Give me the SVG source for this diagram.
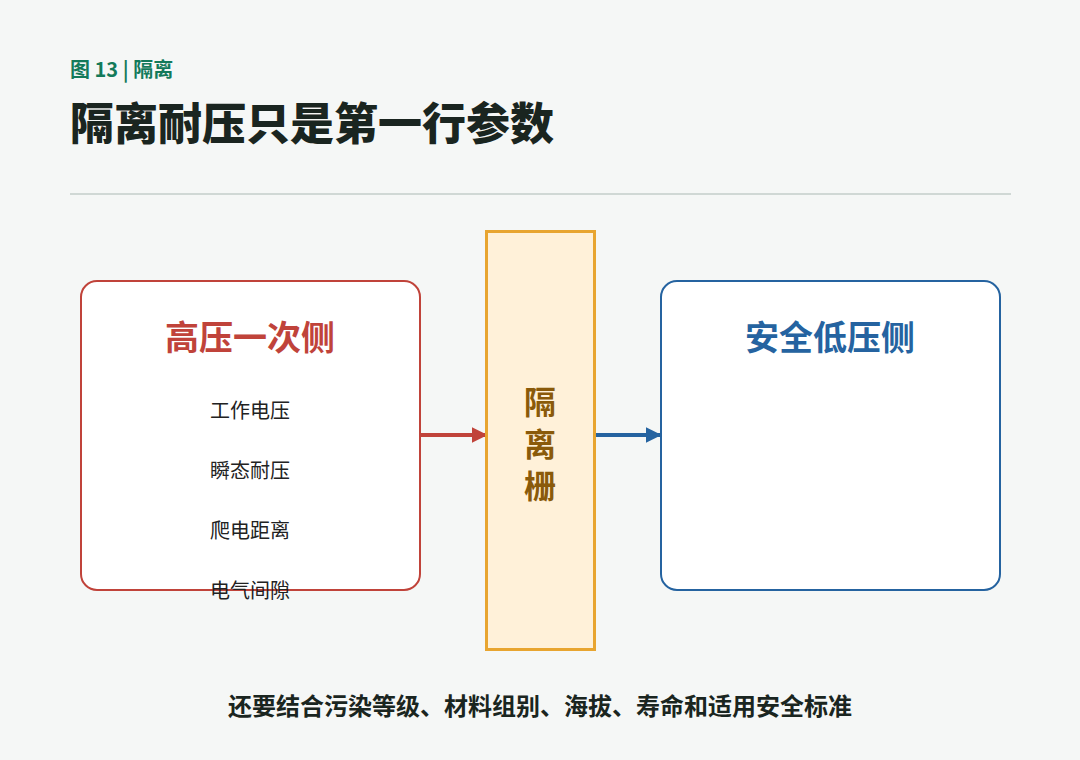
<svg xmlns="http://www.w3.org/2000/svg" width="1080" height="760" viewBox="0 0 1080 760">
<style>
text{font-family:"Noto Sans CJK SC","Noto Sans",sans-serif}
.item{font-size:20px;fill:#222;text-anchor:middle}
.bar{font-size:32px;font-weight:bold;fill:#8a5a0a;text-anchor:middle}
</style>
<defs>
<marker id="ar" viewBox="0 0 10 10" refX="9" refY="5" markerWidth="4" markerHeight="4" orient="auto"><path d="M0,0L10,5L0,10z" fill="#c0433a"/></marker>
<marker id="ab" viewBox="0 0 10 10" refX="9" refY="5" markerWidth="4" markerHeight="4" orient="auto"><path d="M0,0L10,5L0,10z" fill="#2563a0"/></marker>
</defs>
<rect width="1080" height="760" fill="#f5f7f6"/>
<text x="70" y="77" font-size="20" font-weight="bold" fill="#137a5a">图 13 | 隔离</text>
<text x="70" y="140" font-size="44" font-weight="900" fill="#1a2520">隔离耐压只是第一行参数</text>
<rect x="70" y="193" width="941" height="2" fill="#d0d8d5"/>
<g id="connectors">
<line x1="420" y1="435" x2="486" y2="435" stroke="#c0433a" stroke-width="4" marker-end="url(#ar)"/>
<line x1="595" y1="435" x2="660" y2="435" stroke="#2563a0" stroke-width="4" marker-end="url(#ab)"/>
</g>
<g id="primary">
<rect x="81" y="281" width="339" height="309" rx="16" fill="#fff" stroke="#c0433a" stroke-width="2"/>
<text x="250" y="350" font-size="34" font-weight="bold" fill="#c0433a" text-anchor="middle">高压一次侧</text>
<text x="250" y="418" class="item">工作电压</text>
<text x="250" y="478" class="item">瞬态耐压</text>
<text x="250" y="538" class="item">爬电距离</text>
<text x="250" y="598" class="item">电气间隙</text>
</g>
<g id="barrier">
<rect x="486.500" y="231.500" width="108" height="418" fill="#fff1d9" stroke="#e8a530" stroke-width="3"/>
<text x="540" y="414" class="bar">隔</text>
<text x="540" y="456" class="bar">离</text>
<text x="540" y="498" class="bar">栅</text>
</g>
<g id="secondary">
<rect x="661" y="281" width="339" height="309" rx="16" fill="#fff" stroke="#2563a0" stroke-width="2"/>
<text x="830" y="350" font-size="34" font-weight="bold" fill="#2563a0" text-anchor="middle">安全低压侧</text>
</g>
<text x="540" y="715" font-size="24" font-weight="bold" fill="#1a2520" text-anchor="middle">还要结合污染等级、材料组别、海拔、寿命和适用安全标准</text>
</svg>
